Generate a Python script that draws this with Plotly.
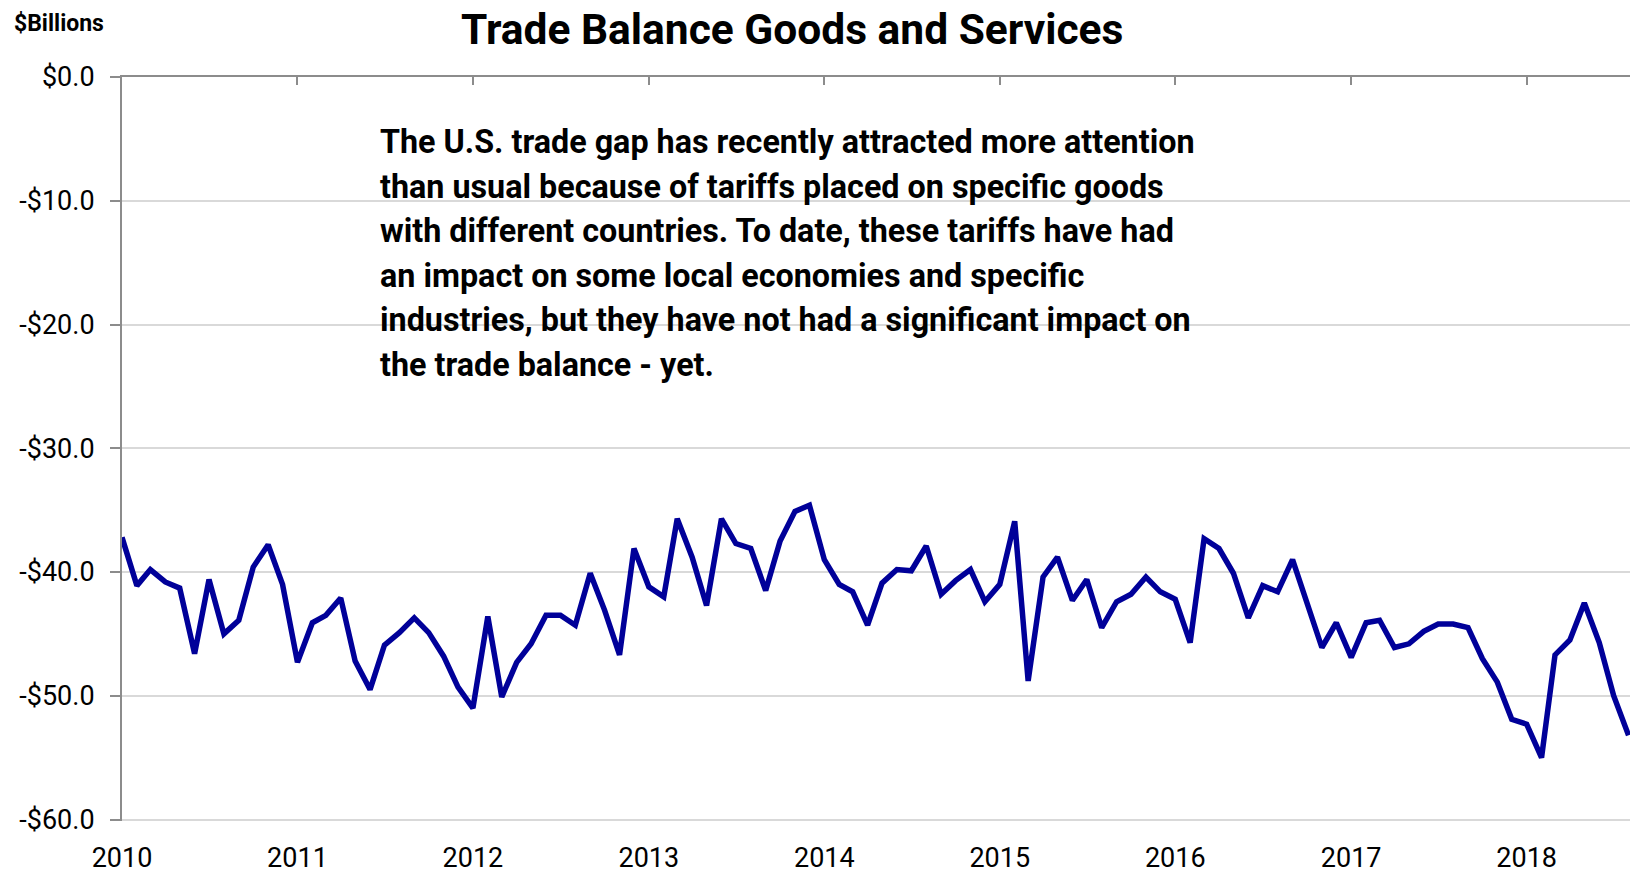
import pandas as pd
import plotly.graph_objects as go

title = "Trade Balance Goods and Services"
unit_label = "$Billions"
note_lines = [
    "The U.S. trade gap has recently attracted more attention",
    "than usual because of tariffs placed on specific goods",
    "with different countries. To date, these tariffs have had",
    "an impact on some local economies and specific",
    "industries, but they have not had a significant impact on",
    "the trade balance - yet.",
]

# Monthly trade balance, goods and services ($ billions), Jan 2010 - Aug 2018
balance = [
    -37.2, -41.1, -39.8, -40.8, -41.3, -46.6, -40.6, -45.0, -43.9, -39.6, -37.8, -41.0,  # 2010
    -47.3, -44.1, -43.5, -42.1, -47.2, -49.5, -45.9, -44.9, -43.7, -44.9, -46.8, -49.3,  # 2011
    -51.0, -43.6, -50.1, -47.3, -45.8, -43.5, -43.5, -44.3, -40.1, -43.1, -46.7, -38.1,  # 2012
    -41.2, -42.0, -35.7, -38.8, -42.7, -35.7, -37.7, -38.1, -41.5, -37.5, -35.1, -34.6,  # 2013
    -39.0, -41.0, -41.6, -44.3, -40.9, -39.8, -39.9, -37.9, -41.8, -40.7, -39.8, -42.4,  # 2014
    -41.0, -35.9, -48.8, -40.4, -38.8, -42.3, -40.6, -44.5, -42.4, -41.8, -40.4, -41.6,  # 2015
    -42.2, -45.7, -37.3, -38.1, -40.1, -43.7, -41.1, -41.6, -39.0, -42.6, -46.1, -44.1,  # 2016
    -46.9, -44.1, -43.9, -46.1, -45.8, -44.8, -44.2, -44.2, -44.5, -47.0, -48.9, -51.9,  # 2017
    -52.3, -55.0, -46.7, -45.5, -42.5, -45.7, -50.0, -53.2,                              # 2018
]
months = pd.date_range("2010-01-01", periods=len(balance), freq="MS")

y_ticks = [0, -10, -20, -30, -40, -50, -60]
y_tick_text = ["$0.0", "-$10.0", "-$20.0", "-$30.0", "-$40.0", "-$50.0", "-$60.0"]

FONT = "Roboto, Liberation Sans, Arial, sans-serif"
AXIS_GRAY = "#8c8c8c"
GRID_GRAY = "#d9d9d9"

fig = go.Figure()
fig.add_trace(go.Scatter(
    x=months, y=balance, mode="lines",
    line=dict(color="#000099", width=5.5),
    showlegend=False, hoverinfo="x+y",
))

x_range = ["2010-01-01", "2018-08-04"]

fig.update_layout(
    width=1632, height=875,
    margin=dict(l=122, r=2, t=77, b=54),
    paper_bgcolor="white", plot_bgcolor="white",
    font=dict(family=FONT, size=26, color="#000000"),
    xaxis=dict(
        range=x_range, type="date", automargin=False,
        tickformat="%Y", dtick="M12", tick0="2010-01-01",
        showgrid=False, zeroline=False, showline=False, ticks="",
        tickfont=dict(size=27), ticklabelstandoff=18,
    ),
    xaxis2=dict(
        overlaying="x", matches="x", side="top", anchor="y", type="date",
        range=x_range, dtick="M12", tick0="2010-01-01", automargin=False,
        showline=True, linecolor=AXIS_GRAY, linewidth=2,
        ticks="inside", ticklen=8, tickcolor=AXIS_GRAY, tickwidth=2,
        showticklabels=False, showgrid=False, zeroline=False,
    ),
    yaxis=dict(
        range=[-60.12, 0], tickvals=y_ticks, ticktext=y_tick_text, automargin=False,
        showgrid=True, gridcolor=GRID_GRAY, gridwidth=2,
        zeroline=False, showline=True, linecolor=AXIS_GRAY, linewidth=2,
        ticks="outside", ticklen=10, tickcolor=AXIS_GRAY, tickwidth=2,
        tickfont=dict(size=27), ticklabelstandoff=10,
    ),
)

# invisible trace to bind the top axis
fig.add_trace(go.Scatter(x=[months[0]], y=[None], xaxis="x2", yaxis="y",
                         showlegend=False, hoverinfo="skip"))

annotations = [
    dict(text="<b>" + title + "</b>", xref="paper", yref="paper",
         x=(792 - 122) / 1508, y=(821 - 29) / 744, xanchor="center", yanchor="middle",
         showarrow=False, font=dict(size=42.5, family=FONT, color="#000000")),
    dict(text="<b>" + unit_label + "</b>", xref="paper", yref="paper",
         x=(12 - 122) / 1508, y=(821 - 24) / 744, xanchor="left", yanchor="middle",
         showarrow=False, font=dict(size=23, family=FONT, color="#000000")),
]
baseline0 = 154
spacing = 44.5
for i, line in enumerate(note_lines):
    ypx = baseline0 + i * spacing - 12
    annotations.append(dict(
        text="<b>" + line + "</b>", xref="paper", yref="paper",
        x=(378 - 122) / 1508, y=(821 - ypx) / 744, xanchor="left", yanchor="middle",
        showarrow=False, font=dict(size=32.3, family=FONT, color="#000000"),
    ))
fig.update_layout(annotations=annotations)

fig.write_html("out.html", config={"displayModeBar": False},
               post_script="document.body.style.margin='0';")
